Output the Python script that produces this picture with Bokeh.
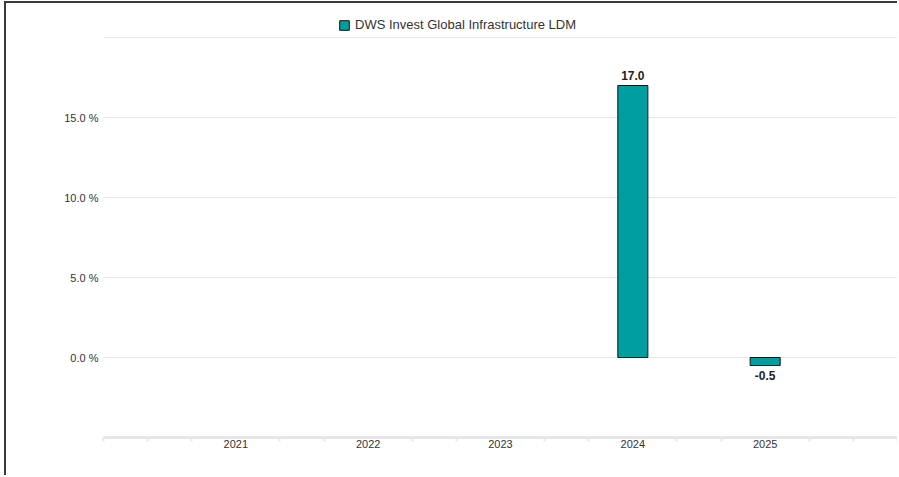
import math
from bokeh.plotting import figure
from bokeh.models import (ColumnDataSource, Range1d, FixedTicker, Legend, LegendItem,
                          CustomJSTickFormatter, LabelSet)
from bokeh.core.properties import value
from bokeh.embed import file_html
from bokeh.resources import INLINE

# ---- data ----
years = [2021, 2022, 2023, 2024, 2025]
year_labels = ["2021", "2022", "2023", "2024", "2025"]
returns = [float("nan"), float("nan"), float("nan"), 17.0, -0.5]
series_name = "DWS Invest Global Infrastructure LDM"
y_ticks = [0, 5, 10, 15, 20]

FONT = "Liberation Sans"
TEAL = "#009E9E"
GRID = "#e6e6e6"
TXT = "#333333"

label_text = ["" if math.isnan(v) else f"{v:.1f}" for v in returns]
pos = [(not math.isnan(v)) and v >= 0 for v in returns]
neg = [(not math.isnan(v)) and v < 0 for v in returns]
src = ColumnDataSource(dict(x=years, top=returns, lab=label_text))
src_pos = ColumnDataSource(dict(x=[x for x, f in zip(years, pos) if f],
                                top=[v for v, f in zip(returns, pos) if f],
                                lab=[l for l, f in zip(label_text, pos) if f]))
src_neg = ColumnDataSource(dict(x=[x for x, f in zip(years, neg) if f],
                                top=[v for v, f in zip(returns, neg) if f],
                                lab=[l for l, f in zip(label_text, neg) if f]))

p = figure(width=893, height=474, output_backend="svg", toolbar_location=None,
           x_range=Range1d(2020, 2026), y_range=Range1d(-5, 22.125),
           min_border_left=97, min_border_right=2, min_border_top=0, min_border_bottom=40)
p.styles = {"margin-left": "4px", "margin-top": "1px",
            "border-left": "2px solid #3a3a3a", "border-top": "2px solid #3a3a3a"}
p.outline_line_color = None
p.background_fill_color = "white"
p.border_fill_color = "white"

bars = p.vbar(x="x", top="top", bottom=0, width=0.227, source=src,
              fill_color=TEAL, line_color="#111111", line_width=1)

p.add_layout(LabelSet(x="x", y="top", text="lab", source=src_pos, text_align="center",
                      text_baseline="bottom", y_offset=6, text_font=value(FONT),
                      text_font_size="12px", text_font_style="bold", text_color="#222222"))
p.add_layout(LabelSet(x="x", y="top", text="lab", source=src_neg, text_align="center",
                      text_baseline="top", y_offset=-5, text_font=value(FONT),
                      text_font_size="12px", text_font_style="bold", text_color="#222222"))

# x axis
minor = [2020 + i / 3 for i in range(19) if i % 3 != 0 or i in (0, 18)]
p.xaxis.ticker = FixedTicker(ticks=years, minor_ticks=minor)
p.xaxis.major_label_overrides = {y: l for y, l in zip(years, year_labels)}
p.xaxis.axis_line_color = GRID
p.xaxis.axis_line_width = 3
p.xaxis.major_tick_line_color = None
p.xaxis.major_tick_out = 0
p.xaxis.major_tick_in = 0
p.xaxis.minor_tick_line_color = GRID
p.xaxis.minor_tick_line_width = 2
p.xaxis.minor_tick_out = 4
p.xaxis.minor_tick_in = 0
p.xaxis.major_label_standoff = -2
p.xaxis.major_label_text_font = FONT
p.xaxis.major_label_text_font_size = "11px"
p.xaxis.major_label_text_color = TXT
p.xgrid.grid_line_color = None

# y axis
p.yaxis.ticker = FixedTicker(ticks=y_ticks)
p.yaxis.formatter = CustomJSTickFormatter(code="return tick >= 20 ? '' : tick.toFixed(1) + ' %';")
p.yaxis.axis_line_color = None
p.yaxis.major_tick_line_color = None
p.yaxis.minor_tick_line_color = None
p.yaxis.major_tick_out = 0
p.yaxis.major_tick_in = 0
p.yaxis.major_label_standoff = 5
p.yaxis.major_label_text_font = FONT
p.yaxis.major_label_text_font_size = "11px"
p.yaxis.major_label_text_color = TXT
p.ygrid.grid_line_color = GRID
p.ygrid.grid_line_width = 1

# legend
legend = Legend(items=[LegendItem(label=series_name, renderers=[bars])],
                location=(235, 405), orientation="horizontal",
                glyph_width=12, glyph_height=12, label_height=12,
                padding=6, margin=0, spacing=0, label_standoff=5,
                border_line_color=None, background_fill_alpha=0,
                label_text_font=FONT, label_text_font_size="13px",
                label_text_color=TXT)
p.add_layout(legend, "center")

open("out.html", "w").write(file_html(p, INLINE))
